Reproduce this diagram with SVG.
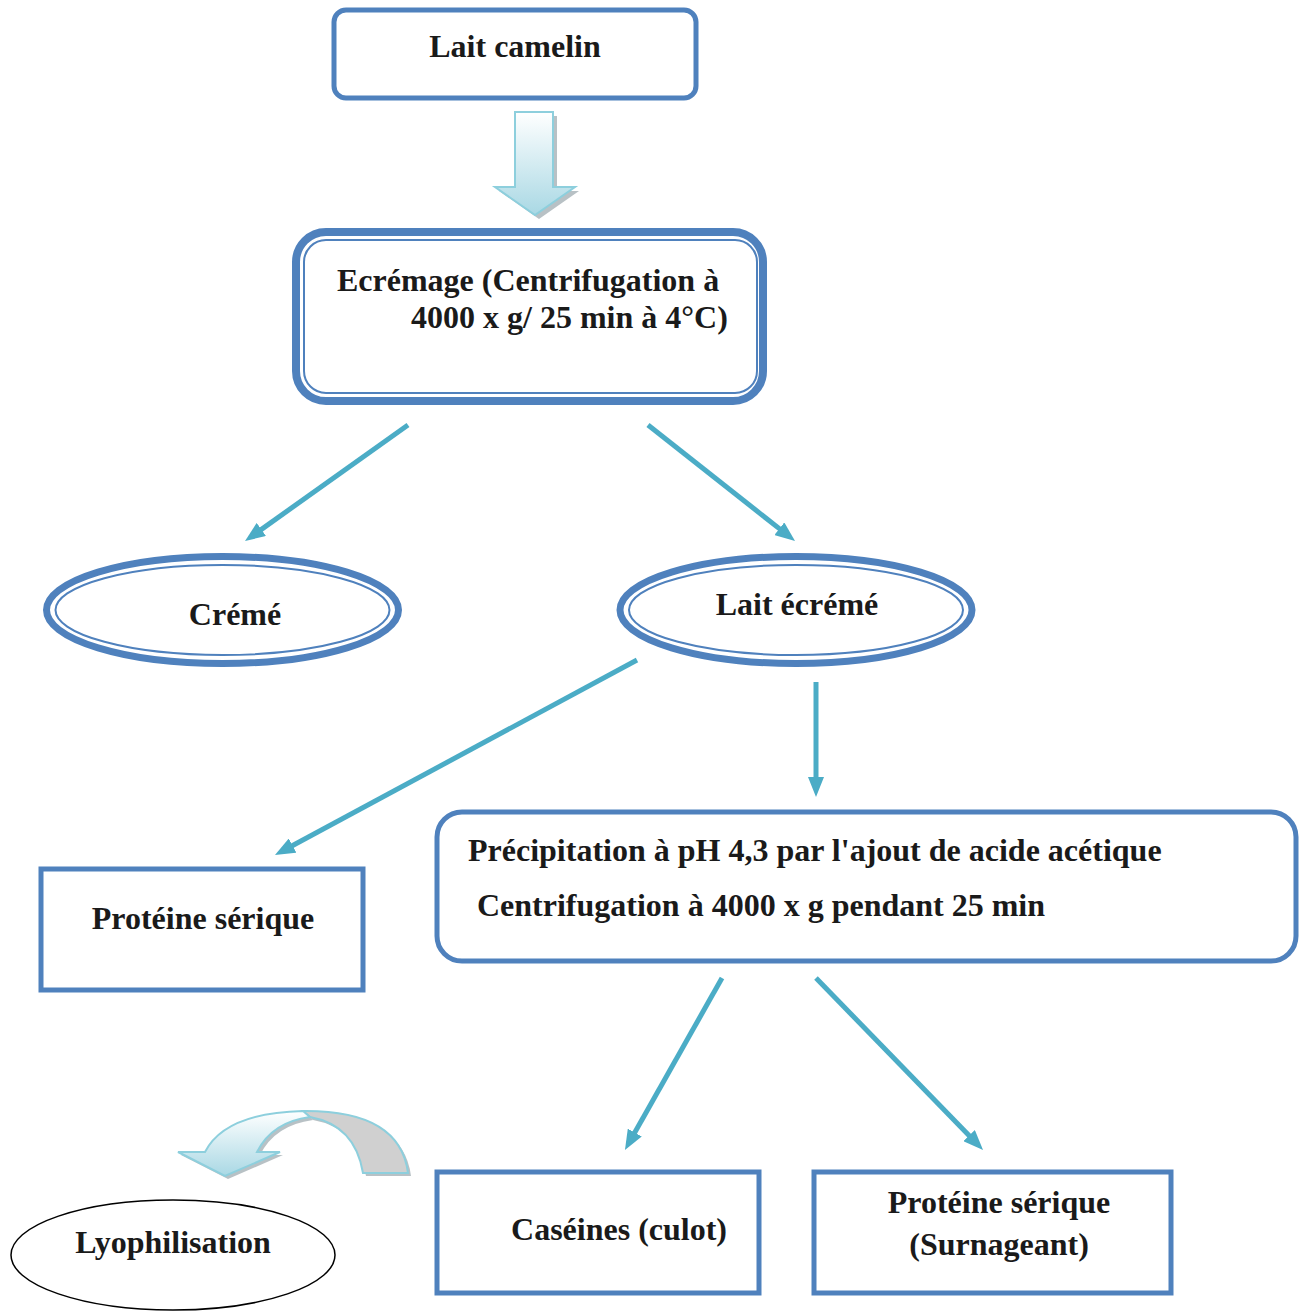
<svg xmlns="http://www.w3.org/2000/svg" width="1307" height="1311" viewBox="0 0 1307 1311">
<style>
.t{font-family:"Liberation Serif","Times New Roman",serif;font-weight:bold;font-size:32px;fill:#1a1a1a}
.box{fill:#fff;stroke:#4F81BD;stroke-width:5}
.conn{stroke:#4BACC6;stroke-width:5;fill:none;marker-end:url(#ah)}
.blk{stroke:#8DCFDD;stroke-width:2}
</style>
<defs>
<marker id="ah" viewBox="0 0 20 16" refX="2" refY="8" markerWidth="20" markerHeight="16" markerUnits="userSpaceOnUse" orient="auto">
<path d="M0,0 L20,8 L0,16 Z" fill="#4BACC6"/>
</marker>
<linearGradient id="g1" x1="0" y1="0" x2="0" y2="1">
<stop offset="0" stop-color="#ffffff"/>
<stop offset="1" stop-color="#A9D8E4"/>
</linearGradient>
<linearGradient id="g2" x1="0" y1="0" x2="0" y2="1">
<stop offset="0" stop-color="#ffffff"/>
<stop offset="1" stop-color="#A9D8E4"/>
</linearGradient>
</defs>
<rect width="1307" height="1311" fill="#fff"/>

<g id="lait-camelin">
<rect class="box" x="334" y="10" width="362" height="88" rx="12"/>
<text class="t" x="515" y="57" text-anchor="middle">Lait camelin</text>
</g>

<g id="block-arrow">
<path d="M519,116 L557,116 L557,191 L579,191 L539,219 L499,191 L519,191 Z" fill="#9aa7ad" opacity="0.7"/>
<path d="M515,112 L553,112 L553,187 L575,187 L535,215 L495,187 L515,187 Z" fill="url(#g1)" class="blk"/>
</g>

<g id="ecremage">
<rect x="296" y="232" width="467" height="169" rx="30" fill="#fff" stroke="#4F81BD" stroke-width="8"/>
<rect x="304" y="240" width="453" height="153" rx="22" fill="none" stroke="#4F81BD" stroke-width="2"/>
<text class="t" x="337" y="291">Ecrémage (Centrifugation à</text>
<text class="t" x="411" y="328">4000 x g/ 25 min à 4°C)</text>
</g>

<g id="creme">
<ellipse cx="222.5" cy="610" rx="176" ry="53.5" fill="#fff" stroke="#4F81BD" stroke-width="7"/>
<ellipse cx="222.5" cy="610" rx="167" ry="45" fill="none" stroke="#4F81BD" stroke-width="2"/>
<text class="t" x="235" y="625" text-anchor="middle">Crémé</text>
</g>

<g id="lait-ecreme">
<ellipse cx="796" cy="610" rx="176" ry="53.5" fill="#fff" stroke="#4F81BD" stroke-width="7"/>
<ellipse cx="796" cy="610" rx="167" ry="45" fill="none" stroke="#4F81BD" stroke-width="2"/>
<text class="t" x="797" y="615" text-anchor="middle">Lait écrémé</text>
</g>

<g id="proteine-serique-1">
<rect class="box" x="41" y="869" width="322" height="121"/>
<text class="t" x="203" y="929" text-anchor="middle">Protéine sérique</text>
</g>

<g id="precipitation">
<rect class="box" x="437" y="812" width="859" height="149" rx="25"/>
<text class="t" x="468" y="861">Précipitation à pH 4,3 par l'ajout de acide acétique</text>
<text class="t" x="477" y="916">Centrifugation à 4000 x g pendant 25 min</text>
</g>

<g id="caseines">
<rect class="box" x="437" y="1172" width="322" height="121"/>
<text class="t" x="619" y="1240" text-anchor="middle">Caséines (culot)</text>
</g>

<g id="proteine-serique-2">
<rect class="box" x="814" y="1172" width="357" height="121"/>
<text class="t" x="999" y="1213" text-anchor="middle">Protéine sérique</text>
<text class="t" x="999" y="1255" text-anchor="middle">(Surnageant)</text>
</g>

<g id="lyophilisation">
<ellipse cx="173" cy="1255" rx="162" ry="55" fill="#fff" stroke="#000" stroke-width="1.5"/>
<text class="t" x="173" y="1253" text-anchor="middle">Lyophilisation</text>
</g>

<g id="curved-arrow">
<path d="M306,1114 Q228,1116 208,1155 L181,1155 L228,1179 L283,1155 L260,1155 Q275,1125 313,1120 Z" fill="#9aa7ad" opacity="0.7"/>
<path d="M306,1114 Q403,1113 411,1176 L366,1176 Q358,1128 313,1120 Z" fill="#9aa7ad" opacity="0.7"/>
<path d="M303,1111 Q400,1110 408,1173 L363,1173 Q355,1125 310,1117 Z" fill="#D0D0D0" class="blk"/>
<path d="M303,1111 Q225,1113 205,1152 L178,1152 L225,1176 L280,1152 L257,1152 Q272,1122 310,1117 Z" fill="url(#g2)" class="blk"/>
</g>

<g id="connectors">
<line class="conn" x1="408" y1="425" x2="259.7" y2="530.6"/>
<line class="conn" x1="648" y1="425" x2="780.9" y2="529.9"/>
<line class="conn" x1="637" y1="660" x2="290.8" y2="846.5"/>
<line class="conn" x1="816" y1="682" x2="816" y2="779"/>
<line class="conn" x1="722" y1="978" x2="633.8" y2="1134.3"/>
<line class="conn" x1="816" y1="978" x2="970.5" y2="1137.1"/>
</g>
</svg>
